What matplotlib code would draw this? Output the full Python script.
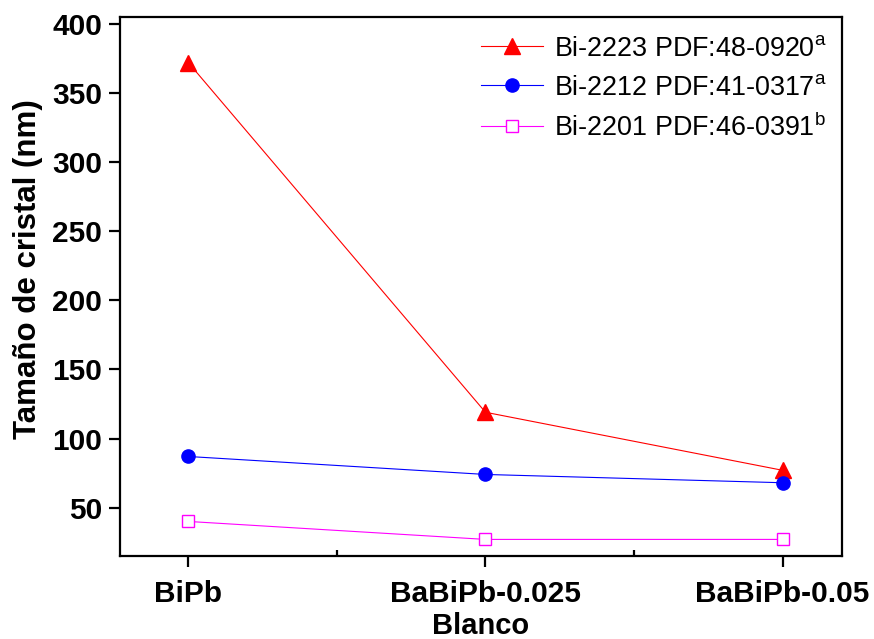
import numpy as np
import matplotlib.pyplot as plt

plt.rcParams['font.family'] = ['Liberation Sans', 'DejaVu Sans']
plt.rcParams['mathtext.fontset'] = 'custom'
plt.rcParams['mathtext.rm'] = 'Liberation Sans'

samples = ['BiPb', 'BaBiPb-0.025', 'BaBiPb-0.05']
bi2223 = [372, 119, 77]
bi2212 = [87, 74, 68]
bi2201 = [40, 27, 27]
labels = ['Bi-2223 PDF:48-0920$^\\mathregular{a}$',
          'Bi-2212 PDF:41-0317$^\\mathregular{a}$',
          'Bi-2201 PDF:46-0391$^\\mathregular{b}$']


def main():
    fig = plt.figure(figsize=(8.74, 6.39), dpi=100)
    ax = fig.add_axes([0.1373, 0.1299, 0.8261, 0.8435])
    x = np.arange(len(samples))

    ax.plot(x, bi2223, '-', color='red', lw=0.8, marker='^', ms=11, label=labels[0])
    ax.plot(x, bi2212, '-', color='blue', lw=0.8, marker='o', ms=9.5, label=labels[1])
    ax.plot(x, bi2201, '-', color='magenta', lw=0.8, marker='s', ms=8,
            mfc='white', mec='magenta', mew=1, label=labels[2])

    ax.set_xlim(-0.23, 2.2)
    ax.set_ylim(15, 405)
    ax.set_xticks(x)
    ax.set_xticklabels(samples)
    ax.set_xticks([0.5, 1.5], minor=True)
    ax.set_yticks(np.arange(50, 401, 50))

    for s in ax.spines.values():
        s.set_linewidth(1.6)
    ax.tick_params(axis='both', which='major', direction='out', length=8, width=1.6,
                   labelsize=21.5)
    ax.tick_params(axis='x', which='major', pad=9.5)
    ax.tick_params(axis='y', which='major', pad=5)
    ax.tick_params(axis='x', which='minor', direction='in', length=4, width=1.6)
    for t in ax.get_xticklabels() + ax.get_yticklabels():
        t.set_fontweight('bold')

    ax.set_xlabel('Blanco', fontsize=21, fontweight='bold', labelpad=2.5)
    ax.set_ylabel('Tamaño de cristal (nm)', fontsize=22.5, fontweight='bold')
    ax.yaxis.set_label_coords(-0.107, 0.532)

    ax.legend(loc='upper right', frameon=False, fontsize=19.4, handlelength=2.3,
              handletextpad=0.4, labelspacing=0.47, borderaxespad=0.3,
              bbox_to_anchor=(1.005, 1.0))

    fig.savefig('out.png', dpi=100)


if __name__ == '__main__':
    main()
